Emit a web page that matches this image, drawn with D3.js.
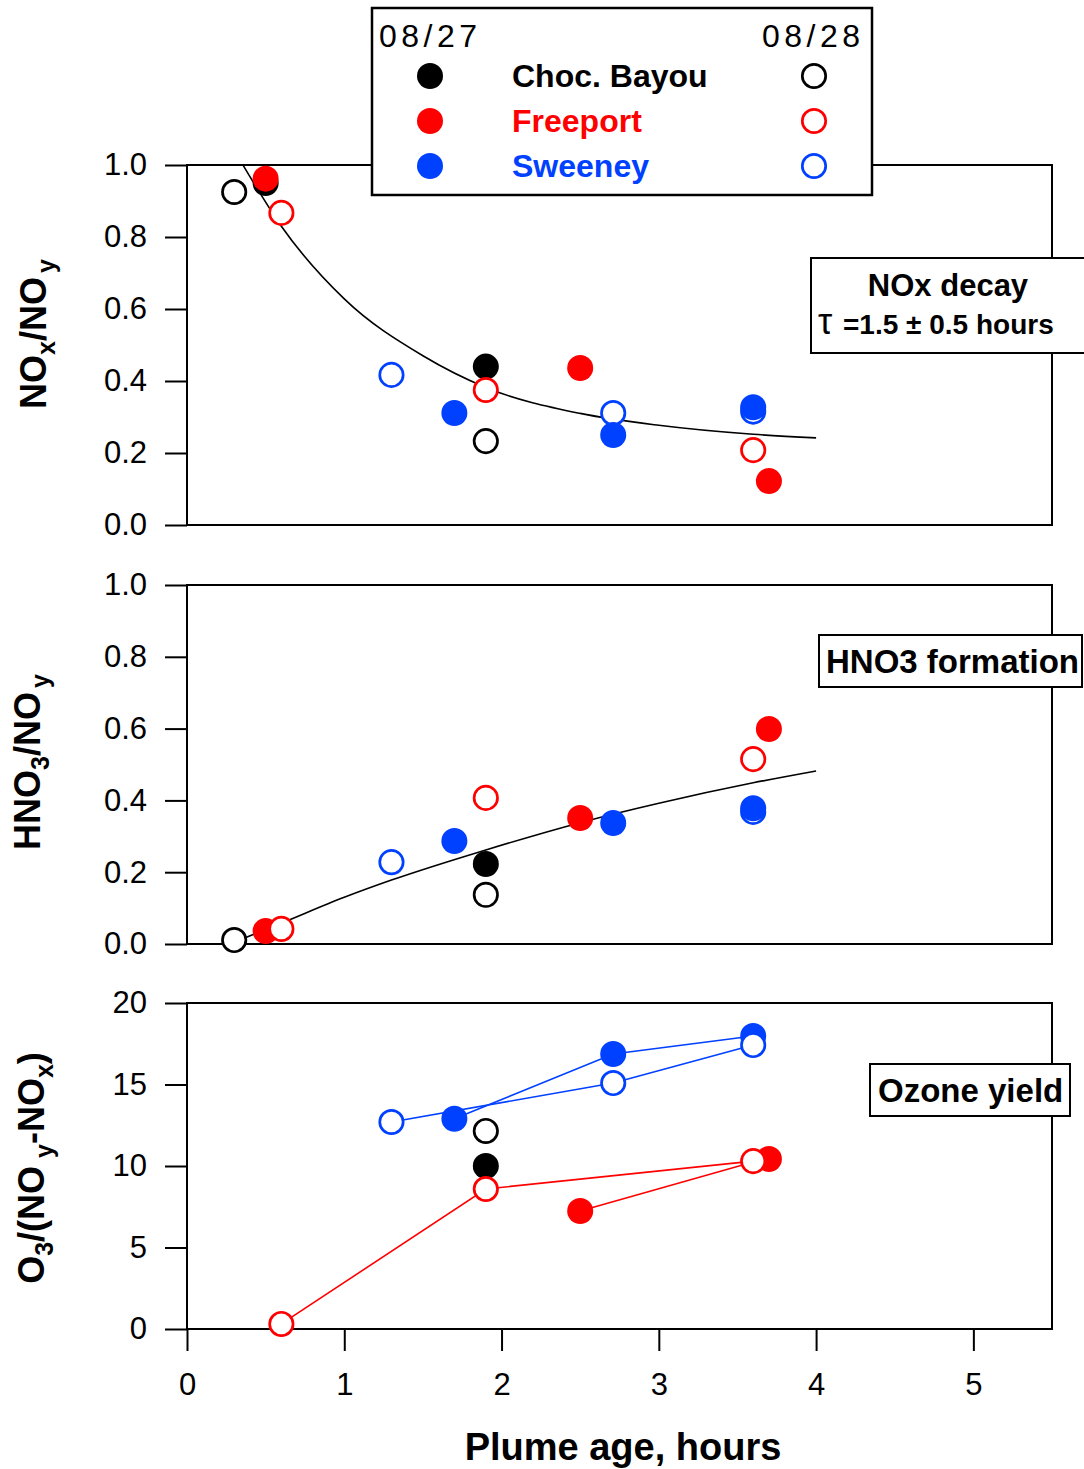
<!DOCTYPE html>
<html>
<head>
<meta charset="utf-8">
<script src="https://cdn.jsdelivr.net/npm/d3@7"></script>
<style>
  body { margin: 0; background: #fff; }
  text { font-family: "Liberation Sans", Arial, Helvetica, sans-serif; }
</style>
</head>
<body>
<svg id="chart" width="1084" height="1469"></svg>
<script>
// ---- data ----
const ageTicks = [0, 1, 2, 3, 4, 5];
const ratioTicks = [0, 0.2, 0.4, 0.6, 0.8, 1.0];
const yieldTicks = [0, 5, 10, 15, 20];

const sites = ["Choc. Bayou", "Freeport", "Sweeney"];
const days = ["08/27", "08/28"];

// NOx/NOy  [plume age, ratio]
const noxCB27 = [[0.5, 0.95], [1.9, 0.44]];
const noxCB28 = [[0.3, 0.925], [1.9, 0.233]];
const noxFP27 = [[0.5, 0.962], [2.5, 0.436], [3.7, 0.122]];
const noxFP28 = [[0.6, 0.867], [1.9, 0.375], [3.6, 0.208]];
const noxSW27 = [[1.7, 0.311], [2.71, 0.25], [3.6, 0.327]];
const noxSW28 = [[1.3, 0.417], [2.71, 0.311], [3.6, 0.315]];
const noxFitAge = [0.356, 0.6, 1.0, 1.5, 1.9, 2.5, 3.0, 3.6, 4.0];
const noxFitVal = [1.0, 0.83, 0.628, 0.47, 0.382, 0.31, 0.277, 0.252, 0.242];

// HNO3/NOy
const hno3CB27 = [[1.9, 0.223]];
const hno3CB28 = [[0.3, 0.011], [1.9, 0.137]];
const hno3FP27 = [[0.5, 0.036], [2.5, 0.351], [3.7, 0.599]];
const hno3FP28 = [[0.6, 0.042], [1.9, 0.407], [3.6, 0.515]];
const hno3SW27 = [[1.7, 0.287], [2.71, 0.337], [3.6, 0.378]];
const hno3SW28 = [[1.3, 0.228], [3.6, 0.368]];
const hno3FitAge = [0.3, 0.6, 1.0, 1.3, 1.9, 2.5, 3.0, 3.6, 4.0];
const hno3FitVal = [0.005, 0.058, 0.13, 0.178, 0.262, 0.338, 0.392, 0.449, 0.482];

// O3/(NOy-NOx)
const o3CB27 = [[1.9, 10.0]];
const o3CB28 = [[1.9, 12.15]];
const o3FP27 = [[2.5, 7.24], [3.7, 10.43]];
const o3FP28 = [[0.6, 0.31], [1.9, 8.59], [3.6, 10.3]];
const o3SW27 = [[1.7, 12.9], [2.71, 16.87], [3.6, 17.98]];
const o3SW28 = [[1.3, 12.7], [2.71, 15.09], [3.6, 17.42]];
const o3LineFP27 = [[2.5, 7.24], [3.6, 10.25]];

// ---- styling ----
const RED = "#ff0000", BLUE = "#0040ff", BLACK = "#000000";
const siteColors = [BLACK, RED, BLUE];
const style = {
  cb27: { color: BLACK, filled: true },  cb28: { color: BLACK, filled: false },
  fp27: { color: RED, filled: true },    fp28: { color: RED, filled: false },
  sw27: { color: BLUE, filled: true },   sw28: { color: BLUE, filled: false }
};

const svg = d3.select("#chart");
const x = d3.scaleLinear().domain([0, 5.5]).range([187, 1052]);

const panels = [
  { top: 165, bottom: 525, max: 1, ticks: ratioTicks, fmt: d3.format(".1f"),
    pts: { cb28: noxCB28, cb27: noxCB27, fp27: noxFP27, fp28: noxFP28, sw28: noxSW28, sw27: noxSW27 },
    fit: [noxFitAge, noxFitVal], lines: [] },
  { top: 585, bottom: 944, max: 1, ticks: ratioTicks, fmt: d3.format(".1f"),
    pts: { cb28: hno3CB28, cb27: hno3CB27, fp27: hno3FP27, fp28: hno3FP28, sw28: hno3SW28, sw27: hno3SW27 },
    fit: [hno3FitAge, hno3FitVal], lines: [] },
  { top: 1003, bottom: 1329, max: 20, ticks: yieldTicks, fmt: d3.format("d"),
    pts: { cb28: o3CB28, cb27: o3CB27, sw27: o3SW27, sw28: o3SW28, fp27: o3FP27, fp28: o3FP28 },
    fit: null,
    lines: [[o3FP28, RED], [o3LineFP27, RED], [o3SW27, BLUE], [o3SW28, BLUE]] }
];

panels.forEach((p, i) => {
  const y = d3.scaleLinear().domain([0, p.max]).range([p.bottom, p.top]);
  const g = svg.append("g");

  g.append("rect")
    .attr("x", x(0)).attr("y", p.top)
    .attr("width", x(5.5) - x(0)).attr("height", p.bottom - p.top)
    .attr("fill", "none").attr("stroke", "#000").attr("stroke-width", 2);

  const yAxis = g.append("g")
    .attr("transform", `translate(${x(0)},0)`)
    .call(d3.axisLeft(y).tickValues(p.ticks).tickSize(22).tickPadding(18).tickFormat(p.fmt));
  yAxis.select(".domain").remove();
  yAxis.selectAll(".tick line").attr("stroke-width", 2);
  yAxis.selectAll(".tick text").attr("font-size", 31).attr("font-family", null).attr("fill", "#000");

  if (i === 2) {
    const xAxis = g.append("g")
      .attr("transform", `translate(0,${p.bottom})`)
      .call(d3.axisBottom(x).tickValues(ageTicks).tickSize(22).tickPadding(22).tickFormat(d3.format("d")));
    xAxis.select(".domain").remove();
    xAxis.selectAll(".tick line").attr("stroke-width", 2);
    xAxis.selectAll(".tick text").attr("font-size", 31).attr("font-family", null).attr("fill", "#000");
  }

  if (p.fit) {
    const fitPts = d3.zip(p.fit[0], p.fit[1]);
    g.append("path")
      .datum(fitPts)
      .attr("fill", "none").attr("stroke", "#000").attr("stroke-width", 1.6)
      .attr("d", d3.line().x(d => x(d[0])).y(d => y(d[1])).curve(d3.curveMonotoneX));
  }

  p.lines.forEach(([pts, color]) => {
    g.append("path")
      .datum(pts)
      .attr("fill", "none").attr("stroke", color).attr("stroke-width", 1.6)
      .attr("d", d3.line().x(d => x(d[0])).y(d => y(d[1])));
  });

  Object.entries(p.pts).forEach(([key, pts]) => {
    const s = style[key];
    g.selectAll(null).data(pts).enter().append("circle")
      .attr("cx", d => x(d[0])).attr("cy", d => y(d[1]))
      .attr("r", s.filled ? 13 : 11.7)
      .attr("fill", s.filled ? s.color : "#fff")
      .attr("stroke", s.filled ? "none" : s.color)
      .attr("stroke-width", 2.7);
  });
});

// ---- y axis titles ----
function yTitle(cx, cy, parts) {
  const t = svg.append("text")
    .attr("transform", `translate(${cx},${cy}) rotate(-90)`)
    .attr("text-anchor", "middle")
    .attr("font-weight", "bold").attr("font-size", 36);
  let shift = 0;
  parts.forEach(([str, sub, dx]) => {
    const want = sub ? 9 : 0;
    t.append("tspan")
      .attr("dy", want - shift)
      .attr("dx", dx || 0)
      .attr("font-size", sub ? 25 : 36)
      .text(str);
    shift = want;
  });
}
yTitle(46, 334, [["NO"], ["x", true], ["/NO"], ["y", true, 4]]);
yTitle(40, 762, [["HNO"], ["3", true], ["/NO"], ["y", true, 4]]);
yTitle(44, 1168, [["O"], ["3", true], ["/(NO"], ["y", true, 8], ["-NO"], ["x", true], [")"]]);

// ---- x axis title ----
svg.append("text")
  .attr("x", 623).attr("y", 1460)
  .attr("text-anchor", "middle")
  .attr("font-weight", "bold").attr("font-size", 38)
  .text("Plume age, hours");

// ---- legend ----
const legend = svg.append("g");
legend.append("rect")
  .attr("x", 372).attr("y", 8).attr("width", 500).attr("height", 187)
  .attr("fill", "#fff").attr("stroke", "#000").attr("stroke-width", 2.5);
legend.selectAll(".day").data(days).enter().append("text")
  .attr("x", (d, i) => i === 0 ? 379 : 762)
  .attr("y", 47)
  .attr("font-size", 32).attr("letter-spacing", 4.5)
  .text(d => d);
const rows = legend.selectAll(".row").data(sites).enter().append("g")
  .attr("transform", (d, i) => `translate(0,${76 + i * 45})`);
rows.append("circle").attr("cx", 430).attr("r", 13).attr("fill", (d, i) => siteColors[i]);
rows.append("circle").attr("cx", 814).attr("r", 11.7).attr("fill", "#fff")
  .attr("stroke", (d, i) => siteColors[i]).attr("stroke-width", 2.7);
rows.append("text")
  .attr("x", 512).attr("y", 11)
  .attr("font-weight", "bold").attr("font-size", 32)
  .attr("fill", (d, i) => siteColors[i])
  .text(d => d);

// ---- panel labels ----
function labelBox(bx, by, bw, bh) {
  return svg.append("rect")
    .attr("x", bx).attr("y", by).attr("width", bw).attr("height", bh)
    .attr("fill", "#fff").attr("stroke", "#000").attr("stroke-width", 2);
}
labelBox(811, 258, 290, 95);
svg.append("text").attr("x", 948).attr("y", 296).attr("text-anchor", "middle")
  .attr("font-weight", "bold").attr("font-size", 31).text("NOx decay");
const tau = svg.append("text").attr("x", 818).attr("y", 334)
  .attr("font-weight", "bold").attr("font-size", 28);
tau.append("tspan").attr("font-weight", "normal").attr("font-size", 36).text("τ");
tau.append("tspan").attr("dx", 3).text(" =1.5 ± 0.5 hours");

labelBox(819, 635, 263, 52);
svg.append("text").attr("x", 826).attr("y", 673)
  .attr("font-weight", "bold").attr("font-size", 33).text("HNO3 formation");

labelBox(870, 1064, 200, 52);
svg.append("text").attr("x", 878).attr("y", 1102)
  .attr("font-weight", "bold").attr("font-size", 33).text("Ozone yield");
</script>
</body>
</html>
